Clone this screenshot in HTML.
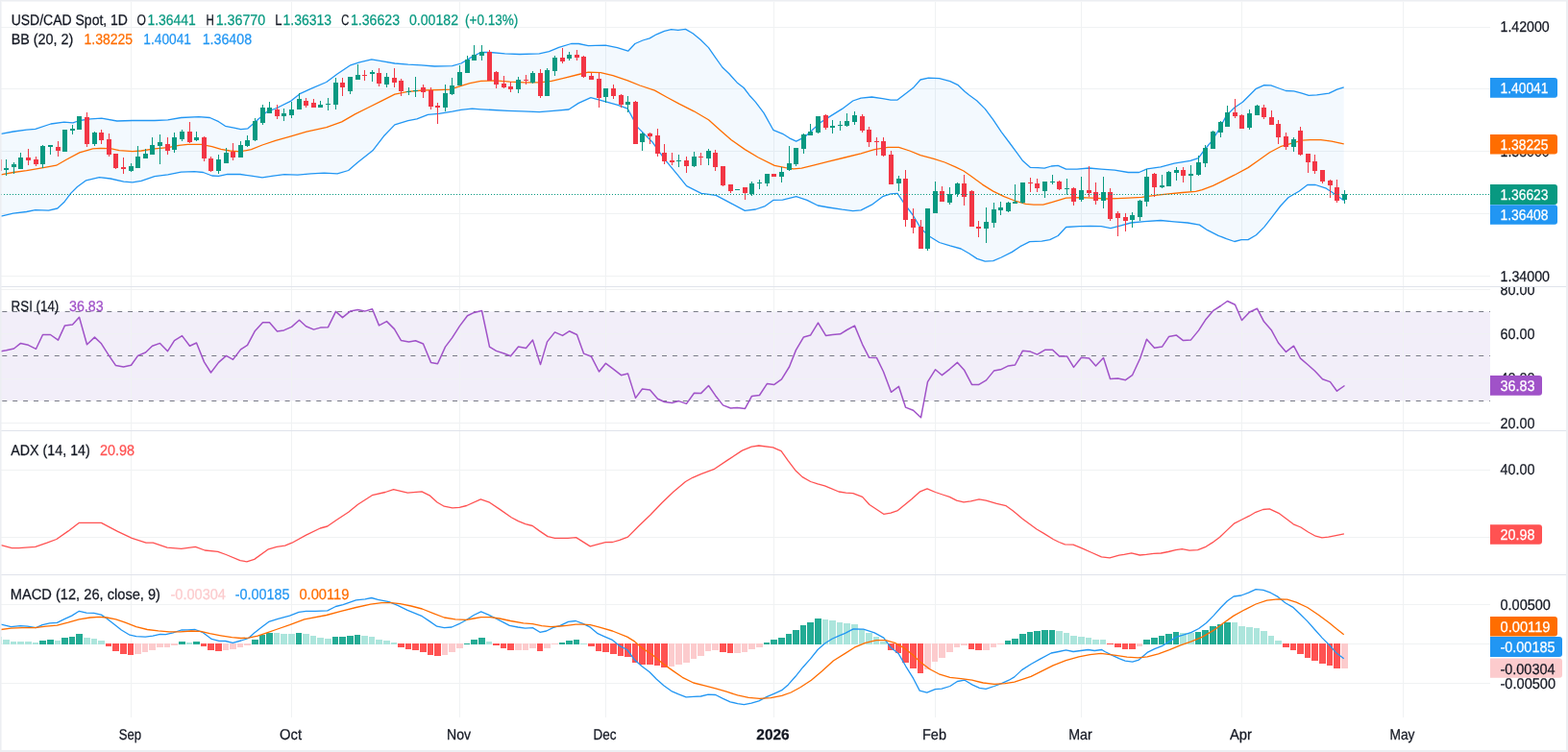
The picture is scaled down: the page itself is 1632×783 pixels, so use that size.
<!DOCTYPE html>
<html><head><meta charset="utf-8"><title>USD/CAD Spot 1D</title><style>
html,body{margin:0;padding:0;background:#ffffff;}
body{width:1632px;height:783px;overflow:hidden;}
svg{display:block;}
text{font-family:"Liberation Sans", Arial, sans-serif;text-rendering:geometricPrecision;}
</style></head><body>
<svg width="1632" height="783" viewBox="0 0 1632 783" shape-rendering="auto">
<defs>
<clipPath id="cm"><rect x="1" y="2" width="1550" height="296"/></clipPath>
<clipPath id="cmx"><rect x="1551" y="2" width="79" height="296"/></clipPath>
<clipPath id="cr"><rect x="1" y="299" width="1550" height="149"/></clipPath>
<clipPath id="crx"><rect x="1551" y="299" width="79" height="149"/></clipPath>
<clipPath id="ca"><rect x="1" y="449" width="1550" height="149"/></clipPath>
<clipPath id="cax"><rect x="1551" y="449" width="79" height="149"/></clipPath>
<clipPath id="cd"><rect x="1" y="599" width="1550" height="148"/></clipPath>
<clipPath id="cdx"><rect x="1551" y="599" width="79" height="148"/></clipPath>
</defs>
<rect x="0" y="0" width="1632" height="783" fill="#ffffff"/>
<g clip-path="url(#cm)">
<rect x="136" y="2" width="1" height="296" fill="#f0f2f3"/>
<rect x="303" y="2" width="1" height="296" fill="#f0f2f3"/>
<rect x="478" y="2" width="1" height="296" fill="#f0f2f3"/>
<rect x="630" y="2" width="1" height="296" fill="#f0f2f3"/>
<rect x="805" y="2" width="1" height="296" fill="#f0f2f3"/>
<rect x="973" y="2" width="1" height="296" fill="#f0f2f3"/>
<rect x="1125" y="2" width="1" height="296" fill="#f0f2f3"/>
<rect x="1292" y="2" width="1" height="296" fill="#f0f2f3"/>
<rect x="1460" y="2" width="1" height="296" fill="#f0f2f3"/>
<rect x="1" y="28" width="1550" height="1" fill="#f0f2f3"/>
<rect x="1" y="92" width="1550" height="1" fill="#f0f2f3"/>
<rect x="1" y="157" width="1550" height="1" fill="#f0f2f3"/>
<rect x="1" y="222" width="1550" height="1" fill="#f0f2f3"/>
<rect x="1" y="287" width="1550" height="1" fill="#f0f2f3"/>
<polygon points="1.1,139.3 13.8,137 27.6,135.2 36.8,134.3 52.9,129 66.7,127.1 75.9,127.8 82.8,125.5 94.3,123.9 105.7,123.2 121.8,126 137.9,125.5 160.9,125.5 174.7,124.8 188.5,122.5 206.9,121.6 218.4,122.5 227.6,126.7 234.5,131.3 243.7,133.1 250.6,134.7 258,133.8 268.4,124.6 277.6,116.6 289.1,112 302.9,105.1 312.1,97.7 323.6,92.4 339.7,85.5 351.1,77 364.9,67.8 374.1,64.8 386.8,61.8 397.1,63.7 410.9,66 424.7,67.1 438.5,67.8 452.3,69 470.7,68.7 479.9,66 491.4,59.1 500.6,54.5 510.2,54.5 525.5,55.8 540.9,56.5 561.3,55.8 571.5,53.7 581.7,49.4 594.5,45.5 602.2,45.5 612.4,47.6 620,47.4 630.2,47.1 642.5,49.6 653.7,53.2 660.9,45.5 669,42 676.2,39.9 683.3,35.8 691.5,32.3 698.7,30.7 705.8,31.4 713.5,30.4 721.1,34.8 729.3,41.5 737.5,49.6 744.6,59.8 751.8,70 758.9,76.7 767.1,85.9 774.2,91.5 780,99.2 786.5,106.4 795,117.6 804.8,135.3 814.6,139.3 821.7,143.8 828.7,147.1 837.1,142.9 845.6,135.3 854,127.5 865.2,120.4 876.5,113.4 887.7,105 896.1,102.2 907.4,101 918.6,102.7 927.1,104.1 934.1,104.1 943.9,96.5 951,90.9 958,83 966.4,81.1 977.7,81.6 988.9,84.7 997.3,88.7 1004.4,95.5 1008.4,98.8 1016.9,105 1025.3,113.4 1033.7,124.6 1042.2,137.3 1050.6,148.5 1059,159.8 1064.6,167.6 1072.5,174.4 1080.1,174.7 1087.1,175.2 1094.2,173 1101.2,172.4 1109.6,176.1 1120.9,176.1 1133.5,175 1146.1,176.1 1160.2,177.2 1174.3,179.5 1185.5,179.5 1193.9,175.8 1208,173.8 1222,170.2 1238.9,167.4 1247.3,164.6 1254,155.5 1261.1,147.1 1268.1,135.8 1276.5,120.4 1284.9,112 1293.4,106.3 1300.4,99.3 1307.4,92.3 1315.8,88.6 1322.8,88.9 1329.9,91.5 1338.3,94.5 1346.7,94.8 1355.1,97.1 1362.2,99.3 1370.6,98.8 1383.2,97.1 1391.6,93.1 1398.7,90.9 1398.7,208.8 1388.8,201.8 1380.4,196.2 1369.2,192.5 1360.8,192.5 1352.3,199 1341.1,205.5 1332.7,214.5 1324.2,225.7 1315.8,236.4 1307.4,244.8 1299,249.6 1292,249.6 1284.9,251.5 1276.5,248.7 1268.1,245.3 1256.8,239.7 1248.4,234.1 1236.1,232 1222,230.9 1208,229.5 1191.1,230.6 1177.1,232 1165.8,235.1 1156,237.6 1146.1,235.7 1134.9,235.4 1123.7,235.7 1109.6,236.5 1101.2,245.5 1092.7,249.7 1084.3,251.1 1071.7,251.7 1061.8,256.7 1053.4,262.4 1042.2,268 1033.7,271.6 1025.3,272.2 1016.9,269.4 1008.4,263.8 1000.1,259 988.9,255.9 977.7,252.5 966.4,245.5 958,237.1 949.5,223 941.1,211.8 934.1,201.4 927.1,201.9 918.6,204.7 907.4,213.2 896.1,218.8 887.7,219.6 876.5,218.2 862.4,216 851.2,214 839.9,208.4 828.7,204.7 814.6,208.1 804.8,208.4 796.4,214.6 786.5,218 775.3,219.4 761.2,211.8 745.2,203.4 729.9,201.4 714.6,193.7 704.3,180.9 691.6,165.6 678.8,147.7 663.5,132.4 653.3,113.2 643,109.4 627.7,105.1 614.9,101.7 602.2,107.4 592,114 576.6,115.3 561.3,116.6 543.4,115.8 528.1,115.3 512.8,114.5 500.6,113.8 491.4,113.1 479.9,114.3 470.7,116.1 456.9,118.4 445.4,119.3 433.9,123.9 424.7,125.7 410.9,129.9 399.4,141.8 387.9,156.8 371.8,169.4 362.6,177.5 351.1,180.9 337.4,180.2 323.6,180.9 309.8,182.1 296,181.6 284.5,183.2 273,184.8 261.5,183.2 250,181.5 236.8,181.4 227.6,183.4 220.7,183 211.5,179.5 202.3,178.6 188.5,179.1 174.7,181.8 160.9,183.7 147.1,188.3 137.9,189.9 128.7,189.2 114.9,186 103.4,184.6 89.7,187.8 80.5,194.5 73.6,201.4 66.7,210.6 59.8,217 50.6,219.1 36.8,218.6 27.6,220.5 13.8,222.1 1.1,225.1" fill="#2196f3" fill-opacity="0.055"/>
<polyline points="1.1,139.3 13.8,137 27.6,135.2 36.8,134.3 52.9,129 66.7,127.1 75.9,127.8 82.8,125.5 94.3,123.9 105.7,123.2 121.8,126 137.9,125.5 160.9,125.5 174.7,124.8 188.5,122.5 206.9,121.6 218.4,122.5 227.6,126.7 234.5,131.3 243.7,133.1 250.6,134.7 258,133.8 268.4,124.6 277.6,116.6 289.1,112 302.9,105.1 312.1,97.7 323.6,92.4 339.7,85.5 351.1,77 364.9,67.8 374.1,64.8 386.8,61.8 397.1,63.7 410.9,66 424.7,67.1 438.5,67.8 452.3,69 470.7,68.7 479.9,66 491.4,59.1 500.6,54.5 510.2,54.5 525.5,55.8 540.9,56.5 561.3,55.8 571.5,53.7 581.7,49.4 594.5,45.5 602.2,45.5 612.4,47.6 620,47.4 630.2,47.1 642.5,49.6 653.7,53.2 660.9,45.5 669,42 676.2,39.9 683.3,35.8 691.5,32.3 698.7,30.7 705.8,31.4 713.5,30.4 721.1,34.8 729.3,41.5 737.5,49.6 744.6,59.8 751.8,70 758.9,76.7 767.1,85.9 774.2,91.5 780,99.2 786.5,106.4 795,117.6 804.8,135.3 814.6,139.3 821.7,143.8 828.7,147.1 837.1,142.9 845.6,135.3 854,127.5 865.2,120.4 876.5,113.4 887.7,105 896.1,102.2 907.4,101 918.6,102.7 927.1,104.1 934.1,104.1 943.9,96.5 951,90.9 958,83 966.4,81.1 977.7,81.6 988.9,84.7 997.3,88.7 1004.4,95.5 1008.4,98.8 1016.9,105 1025.3,113.4 1033.7,124.6 1042.2,137.3 1050.6,148.5 1059,159.8 1064.6,167.6 1072.5,174.4 1080.1,174.7 1087.1,175.2 1094.2,173 1101.2,172.4 1109.6,176.1 1120.9,176.1 1133.5,175 1146.1,176.1 1160.2,177.2 1174.3,179.5 1185.5,179.5 1193.9,175.8 1208,173.8 1222,170.2 1238.9,167.4 1247.3,164.6 1254,155.5 1261.1,147.1 1268.1,135.8 1276.5,120.4 1284.9,112 1293.4,106.3 1300.4,99.3 1307.4,92.3 1315.8,88.6 1322.8,88.9 1329.9,91.5 1338.3,94.5 1346.7,94.8 1355.1,97.1 1362.2,99.3 1370.6,98.8 1383.2,97.1 1391.6,93.1 1398.7,90.9" fill="none" stroke="#2196f3" stroke-width="1.3" stroke-linejoin="round"/>
<polyline points="1.1,225.1 13.8,222.1 27.6,220.5 36.8,218.6 50.6,219.1 59.8,217 66.7,210.6 73.6,201.4 80.5,194.5 89.7,187.8 103.4,184.6 114.9,186 128.7,189.2 137.9,189.9 147.1,188.3 160.9,183.7 174.7,181.8 188.5,179.1 202.3,178.6 211.5,179.5 220.7,183 227.6,183.4 236.8,181.4 250,181.5 261.5,183.2 273,184.8 284.5,183.2 296,181.6 309.8,182.1 323.6,180.9 337.4,180.2 351.1,180.9 362.6,177.5 371.8,169.4 387.9,156.8 399.4,141.8 410.9,129.9 424.7,125.7 433.9,123.9 445.4,119.3 456.9,118.4 470.7,116.1 479.9,114.3 491.4,113.1 500.6,113.8 512.8,114.5 528.1,115.3 543.4,115.8 561.3,116.6 576.6,115.3 592,114 602.2,107.4 614.9,101.7 627.7,105.1 643,109.4 653.3,113.2 663.5,132.4 678.8,147.7 691.6,165.6 704.3,180.9 714.6,193.7 729.9,201.4 745.2,203.4 761.2,211.8 775.3,219.4 786.5,218 796.4,214.6 804.8,208.4 814.6,208.1 828.7,204.7 839.9,208.4 851.2,214 862.4,216 876.5,218.2 887.7,219.6 896.1,218.8 907.4,213.2 918.6,204.7 927.1,201.9 934.1,201.4 941.1,211.8 949.5,223 958,237.1 966.4,245.5 977.7,252.5 988.9,255.9 1000.1,259 1008.4,263.8 1016.9,269.4 1025.3,272.2 1033.7,271.6 1042.2,268 1053.4,262.4 1061.8,256.7 1071.7,251.7 1084.3,251.1 1092.7,249.7 1101.2,245.5 1109.6,236.5 1123.7,235.7 1134.9,235.4 1146.1,235.7 1156,237.6 1165.8,235.1 1177.1,232 1191.1,230.6 1208,229.5 1222,230.9 1236.1,232 1248.4,234.1 1256.8,239.7 1268.1,245.3 1276.5,248.7 1284.9,251.5 1292,249.6 1299,249.6 1307.4,244.8 1315.8,236.4 1324.2,225.7 1332.7,214.5 1341.1,205.5 1352.3,199 1360.8,192.5 1369.2,192.5 1380.4,196.2 1388.8,201.8 1398.7,208.8" fill="none" stroke="#2196f3" stroke-width="1.3" stroke-linejoin="round"/>
<polyline points="1.1,181.8 13.8,179.5 27.6,177.7 43.7,174.9 58.6,172.2 69,166.2 82.8,158.9 96.6,154.9 104.6,154.3 114.9,154.7 124.1,156.6 137.9,157.7 147.1,157 160.9,154.9 174.7,153.6 186.2,151.3 195.4,150.3 209.2,150.3 220.7,152.6 229.9,155.4 239.1,157 250,157.9 261.5,155.6 273,151 286.8,146.4 302.9,141.8 319,137.2 339.7,132.6 355.7,126.9 369.5,118.9 383.3,112 397.1,105.1 410.9,98.2 424.7,95.4 440.8,94 456.9,93.6 468.4,93.1 477.6,90.1 489.1,86.7 500.6,84.4 515.3,83.9 530.7,85.1 546,85.9 561.3,85.9 574.1,84.4 586.8,81.3 602.2,77.5 612.4,75.2 625.2,75.7 637.9,78.7 653.3,83.9 666,89 681.4,94.1 694.1,101.2 706.9,108.1 722.2,115.8 737.5,124.7 750.3,136.2 761.2,145.7 775.3,155.6 789.3,164 806.2,172.4 817.5,174.7 825.9,175.8 834.3,175.2 845.6,172.4 862.4,168.2 879.3,164 896.1,159.8 910.2,155.6 924.3,153.3 935.5,153.3 946.7,157 958,161.7 972,165.4 983.3,169 994.5,173.8 1003,178 1011.2,183.7 1022.5,192.1 1033.7,199.1 1045,204.7 1056.2,209 1067.5,212.3 1075.9,213.2 1085.7,213.2 1095.6,210.4 1109.6,206.2 1123.7,205.6 1137.7,206.2 1151.8,207 1163,206.7 1174.3,206.2 1188.3,205.3 1202.4,203.3 1216.4,201.9 1230.5,200.5 1244.5,199.4 1251.2,197.6 1262.5,193.4 1273.7,187.8 1284.9,182.2 1299,174.6 1310.2,166.7 1321.4,158.8 1332.7,152.7 1343.9,149.3 1355.1,146.2 1363.6,145.6 1374.8,145.6 1386,147.1 1398.7,149.9" fill="none" stroke="#ff6d00" stroke-width="1.3" stroke-linejoin="round"/>
<rect x="-1" y="166" width="1" height="12" fill="#f23645"/>
<rect x="-3" y="166" width="5" height="12" fill="#f23645"/>
<rect x="6" y="166" width="1" height="17" fill="#089981"/>
<rect x="4" y="175" width="5" height="2" fill="#089981"/>
<rect x="14" y="169" width="1" height="12" fill="#089981"/>
<rect x="12" y="171" width="5" height="3" fill="#089981"/>
<rect x="21" y="159" width="1" height="17" fill="#089981"/>
<rect x="19" y="164" width="5" height="12" fill="#089981"/>
<rect x="29" y="155" width="1" height="17" fill="#f23645"/>
<rect x="27" y="164" width="5" height="3" fill="#f23645"/>
<rect x="37" y="163" width="1" height="10" fill="#f23645"/>
<rect x="35" y="166" width="5" height="5" fill="#f23645"/>
<rect x="44" y="151" width="1" height="24" fill="#089981"/>
<rect x="42" y="152" width="5" height="19" fill="#089981"/>
<rect x="52" y="151" width="1" height="10" fill="#089981"/>
<rect x="50" y="151" width="5" height="2" fill="#089981"/>
<rect x="60" y="147" width="1" height="16" fill="#f23645"/>
<rect x="58" y="153" width="5" height="4" fill="#f23645"/>
<rect x="67" y="135" width="1" height="23" fill="#089981"/>
<rect x="65" y="135" width="5" height="23" fill="#089981"/>
<rect x="75" y="130" width="1" height="10" fill="#089981"/>
<rect x="73" y="134" width="5" height="2" fill="#089981"/>
<rect x="82" y="121" width="1" height="14" fill="#089981"/>
<rect x="80" y="121" width="5" height="14" fill="#089981"/>
<rect x="90" y="117" width="1" height="36" fill="#f23645"/>
<rect x="88" y="122" width="5" height="28" fill="#f23645"/>
<rect x="98" y="137" width="1" height="15" fill="#089981"/>
<rect x="96" y="138" width="5" height="12" fill="#089981"/>
<rect x="105" y="135" width="1" height="15" fill="#f23645"/>
<rect x="103" y="138" width="5" height="8" fill="#f23645"/>
<rect x="113" y="139" width="1" height="24" fill="#f23645"/>
<rect x="111" y="145" width="5" height="16" fill="#f23645"/>
<rect x="120" y="160" width="1" height="16" fill="#f23645"/>
<rect x="118" y="160" width="5" height="15" fill="#f23645"/>
<rect x="128" y="164" width="1" height="17" fill="#f23645"/>
<rect x="126" y="174" width="5" height="2" fill="#f23645"/>
<rect x="136" y="170" width="1" height="9" fill="#089981"/>
<rect x="134" y="173" width="5" height="5" fill="#089981"/>
<rect x="143" y="152" width="1" height="23" fill="#089981"/>
<rect x="141" y="163" width="5" height="12" fill="#089981"/>
<rect x="151" y="155" width="1" height="10" fill="#089981"/>
<rect x="149" y="160" width="5" height="5" fill="#089981"/>
<rect x="158" y="143" width="1" height="18" fill="#089981"/>
<rect x="156" y="151" width="5" height="10" fill="#089981"/>
<rect x="166" y="140" width="1" height="31" fill="#089981"/>
<rect x="164" y="148" width="5" height="4" fill="#089981"/>
<rect x="174" y="143" width="1" height="18" fill="#f23645"/>
<rect x="172" y="150" width="5" height="7" fill="#f23645"/>
<rect x="181" y="138" width="1" height="21" fill="#089981"/>
<rect x="179" y="143" width="5" height="13" fill="#089981"/>
<rect x="189" y="135" width="1" height="12" fill="#089981"/>
<rect x="187" y="137" width="5" height="8" fill="#089981"/>
<rect x="197" y="127" width="1" height="22" fill="#f23645"/>
<rect x="195" y="137" width="5" height="11" fill="#f23645"/>
<rect x="204" y="137" width="1" height="10" fill="#089981"/>
<rect x="202" y="143" width="5" height="3" fill="#089981"/>
<rect x="212" y="142" width="1" height="26" fill="#f23645"/>
<rect x="210" y="143" width="5" height="22" fill="#f23645"/>
<rect x="219" y="163" width="1" height="16" fill="#f23645"/>
<rect x="217" y="165" width="5" height="13" fill="#f23645"/>
<rect x="227" y="161" width="1" height="20" fill="#089981"/>
<rect x="225" y="166" width="5" height="12" fill="#089981"/>
<rect x="235" y="154" width="1" height="16" fill="#089981"/>
<rect x="233" y="159" width="5" height="11" fill="#089981"/>
<rect x="242" y="149" width="1" height="18" fill="#f23645"/>
<rect x="240" y="158" width="5" height="6" fill="#f23645"/>
<rect x="250" y="147" width="1" height="17" fill="#089981"/>
<rect x="248" y="151" width="5" height="13" fill="#089981"/>
<rect x="257" y="141" width="1" height="12" fill="#089981"/>
<rect x="255" y="146" width="5" height="6" fill="#089981"/>
<rect x="265" y="123" width="1" height="24" fill="#089981"/>
<rect x="263" y="126" width="5" height="20" fill="#089981"/>
<rect x="273" y="109" width="1" height="21" fill="#089981"/>
<rect x="271" y="112" width="5" height="16" fill="#089981"/>
<rect x="280" y="106" width="1" height="12" fill="#089981"/>
<rect x="278" y="112" width="5" height="6" fill="#089981"/>
<rect x="288" y="109" width="1" height="15" fill="#f23645"/>
<rect x="286" y="114" width="5" height="7" fill="#f23645"/>
<rect x="295" y="113" width="1" height="13" fill="#089981"/>
<rect x="293" y="118" width="5" height="3" fill="#089981"/>
<rect x="303" y="106" width="1" height="17" fill="#089981"/>
<rect x="301" y="114" width="5" height="6" fill="#089981"/>
<rect x="311" y="97" width="1" height="17" fill="#089981"/>
<rect x="309" y="103" width="5" height="11" fill="#089981"/>
<rect x="318" y="102" width="1" height="10" fill="#f23645"/>
<rect x="316" y="105" width="5" height="5" fill="#f23645"/>
<rect x="326" y="103" width="1" height="9" fill="#f23645"/>
<rect x="324" y="107" width="5" height="5" fill="#f23645"/>
<rect x="333" y="105" width="1" height="7" fill="#089981"/>
<rect x="331" y="109" width="5" height="3" fill="#089981"/>
<rect x="341" y="102" width="1" height="13" fill="#089981"/>
<rect x="339" y="108" width="5" height="1" fill="#089981"/>
<rect x="349" y="81" width="1" height="33" fill="#089981"/>
<rect x="347" y="86" width="5" height="23" fill="#089981"/>
<rect x="356" y="81" width="1" height="19" fill="#f23645"/>
<rect x="354" y="86" width="5" height="5" fill="#f23645"/>
<rect x="364" y="80" width="1" height="18" fill="#089981"/>
<rect x="362" y="80" width="5" height="15" fill="#089981"/>
<rect x="372" y="67" width="1" height="16" fill="#089981"/>
<rect x="370" y="78" width="5" height="5" fill="#089981"/>
<rect x="379" y="73" width="1" height="11" fill="#f23645"/>
<rect x="377" y="78" width="5" height="1" fill="#f23645"/>
<rect x="387" y="73" width="1" height="12" fill="#089981"/>
<rect x="385" y="75" width="5" height="2" fill="#089981"/>
<rect x="394" y="71" width="1" height="19" fill="#f23645"/>
<rect x="392" y="76" width="5" height="11" fill="#f23645"/>
<rect x="402" y="76" width="1" height="15" fill="#089981"/>
<rect x="400" y="80" width="5" height="8" fill="#089981"/>
<rect x="410" y="71" width="1" height="20" fill="#f23645"/>
<rect x="408" y="81" width="5" height="5" fill="#f23645"/>
<rect x="417" y="82" width="1" height="18" fill="#f23645"/>
<rect x="415" y="84" width="5" height="11" fill="#f23645"/>
<rect x="425" y="91" width="1" height="8" fill="#089981"/>
<rect x="423" y="95" width="5" height="1" fill="#089981"/>
<rect x="432" y="80" width="1" height="21" fill="#089981"/>
<rect x="430" y="94" width="5" height="1" fill="#089981"/>
<rect x="440" y="88" width="1" height="14" fill="#f23645"/>
<rect x="438" y="91" width="5" height="5" fill="#f23645"/>
<rect x="448" y="91" width="1" height="23" fill="#f23645"/>
<rect x="446" y="94" width="5" height="17" fill="#f23645"/>
<rect x="455" y="107" width="1" height="22" fill="#f23645"/>
<rect x="453" y="110" width="5" height="2" fill="#f23645"/>
<rect x="463" y="88" width="1" height="28" fill="#089981"/>
<rect x="461" y="97" width="5" height="15" fill="#089981"/>
<rect x="470" y="81" width="1" height="18" fill="#089981"/>
<rect x="468" y="89" width="5" height="9" fill="#089981"/>
<rect x="478" y="68" width="1" height="21" fill="#089981"/>
<rect x="476" y="75" width="5" height="14" fill="#089981"/>
<rect x="486" y="58" width="1" height="18" fill="#089981"/>
<rect x="484" y="62" width="5" height="14" fill="#089981"/>
<rect x="493" y="47" width="1" height="16" fill="#089981"/>
<rect x="491" y="57" width="5" height="6" fill="#089981"/>
<rect x="501" y="47" width="1" height="16" fill="#089981"/>
<rect x="499" y="54" width="5" height="4" fill="#089981"/>
<rect x="509" y="52" width="1" height="32" fill="#f23645"/>
<rect x="507" y="54" width="5" height="30" fill="#f23645"/>
<rect x="516" y="74" width="1" height="18" fill="#f23645"/>
<rect x="514" y="75" width="5" height="13" fill="#f23645"/>
<rect x="524" y="79" width="1" height="13" fill="#f23645"/>
<rect x="522" y="87" width="5" height="4" fill="#f23645"/>
<rect x="531" y="85" width="1" height="11" fill="#f23645"/>
<rect x="529" y="90" width="5" height="3" fill="#f23645"/>
<rect x="539" y="80" width="1" height="17" fill="#089981"/>
<rect x="537" y="83" width="5" height="10" fill="#089981"/>
<rect x="547" y="78" width="1" height="10" fill="#f23645"/>
<rect x="545" y="83" width="5" height="1" fill="#f23645"/>
<rect x="554" y="74" width="1" height="13" fill="#089981"/>
<rect x="552" y="76" width="5" height="10" fill="#089981"/>
<rect x="562" y="72" width="1" height="30" fill="#f23645"/>
<rect x="560" y="76" width="5" height="24" fill="#f23645"/>
<rect x="569" y="71" width="1" height="29" fill="#089981"/>
<rect x="567" y="73" width="5" height="27" fill="#089981"/>
<rect x="577" y="58" width="1" height="21" fill="#089981"/>
<rect x="575" y="60" width="5" height="14" fill="#089981"/>
<rect x="585" y="50" width="1" height="16" fill="#f23645"/>
<rect x="583" y="60" width="5" height="4" fill="#f23645"/>
<rect x="592" y="54" width="1" height="9" fill="#089981"/>
<rect x="590" y="57" width="5" height="4" fill="#089981"/>
<rect x="600" y="52" width="1" height="11" fill="#f23645"/>
<rect x="598" y="57" width="5" height="3" fill="#f23645"/>
<rect x="607" y="58" width="1" height="23" fill="#f23645"/>
<rect x="605" y="59" width="5" height="21" fill="#f23645"/>
<rect x="615" y="76" width="1" height="7" fill="#f23645"/>
<rect x="613" y="79" width="5" height="4" fill="#f23645"/>
<rect x="623" y="76" width="1" height="36" fill="#f23645"/>
<rect x="621" y="82" width="5" height="20" fill="#f23645"/>
<rect x="630" y="92" width="1" height="15" fill="#089981"/>
<rect x="628" y="92" width="5" height="9" fill="#089981"/>
<rect x="638" y="88" width="1" height="15" fill="#f23645"/>
<rect x="636" y="92" width="5" height="8" fill="#f23645"/>
<rect x="646" y="98" width="1" height="14" fill="#f23645"/>
<rect x="644" y="99" width="5" height="10" fill="#f23645"/>
<rect x="653" y="100" width="1" height="17" fill="#089981"/>
<rect x="651" y="106" width="5" height="3" fill="#089981"/>
<rect x="661" y="105" width="1" height="45" fill="#f23645"/>
<rect x="659" y="106" width="5" height="44" fill="#f23645"/>
<rect x="668" y="138" width="1" height="19" fill="#089981"/>
<rect x="666" y="139" width="5" height="9" fill="#089981"/>
<rect x="676" y="138" width="1" height="12" fill="#f23645"/>
<rect x="674" y="139" width="5" height="3" fill="#f23645"/>
<rect x="684" y="134" width="1" height="29" fill="#f23645"/>
<rect x="682" y="141" width="5" height="19" fill="#f23645"/>
<rect x="691" y="150" width="1" height="21" fill="#f23645"/>
<rect x="689" y="159" width="5" height="9" fill="#f23645"/>
<rect x="699" y="159" width="1" height="13" fill="#f23645"/>
<rect x="697" y="167" width="5" height="2" fill="#f23645"/>
<rect x="706" y="161" width="1" height="13" fill="#089981"/>
<rect x="704" y="167" width="5" height="1" fill="#089981"/>
<rect x="714" y="163" width="1" height="17" fill="#f23645"/>
<rect x="712" y="167" width="5" height="6" fill="#f23645"/>
<rect x="722" y="158" width="1" height="16" fill="#089981"/>
<rect x="720" y="163" width="5" height="10" fill="#089981"/>
<rect x="729" y="159" width="1" height="13" fill="#f23645"/>
<rect x="727" y="163" width="5" height="1" fill="#f23645"/>
<rect x="737" y="155" width="1" height="17" fill="#089981"/>
<rect x="735" y="157" width="5" height="8" fill="#089981"/>
<rect x="744" y="156" width="1" height="22" fill="#f23645"/>
<rect x="742" y="159" width="5" height="15" fill="#f23645"/>
<rect x="752" y="173" width="1" height="21" fill="#f23645"/>
<rect x="750" y="173" width="5" height="20" fill="#f23645"/>
<rect x="760" y="192" width="1" height="9" fill="#f23645"/>
<rect x="758" y="192" width="5" height="7" fill="#f23645"/>
<rect x="767" y="197" width="1" height="1" fill="#089981"/>
<rect x="765" y="197" width="5" height="1" fill="#089981"/>
<rect x="775" y="195" width="1" height="13" fill="#f23645"/>
<rect x="773" y="195" width="5" height="6" fill="#f23645"/>
<rect x="782" y="189" width="1" height="15" fill="#089981"/>
<rect x="780" y="191" width="5" height="11" fill="#089981"/>
<rect x="790" y="187" width="1" height="10" fill="#089981"/>
<rect x="788" y="190" width="5" height="1" fill="#089981"/>
<rect x="798" y="181" width="1" height="13" fill="#089981"/>
<rect x="796" y="181" width="5" height="10" fill="#089981"/>
<rect x="805" y="181" width="1" height="3" fill="#f23645"/>
<rect x="803" y="181" width="5" height="3" fill="#f23645"/>
<rect x="813" y="174" width="1" height="16" fill="#089981"/>
<rect x="811" y="179" width="5" height="5" fill="#089981"/>
<rect x="821" y="152" width="1" height="26" fill="#089981"/>
<rect x="819" y="170" width="5" height="7" fill="#089981"/>
<rect x="828" y="154" width="1" height="19" fill="#089981"/>
<rect x="826" y="154" width="5" height="17" fill="#089981"/>
<rect x="836" y="139" width="1" height="21" fill="#089981"/>
<rect x="834" y="140" width="5" height="15" fill="#089981"/>
<rect x="843" y="129" width="1" height="12" fill="#089981"/>
<rect x="841" y="137" width="5" height="4" fill="#089981"/>
<rect x="851" y="121" width="1" height="18" fill="#089981"/>
<rect x="849" y="121" width="5" height="17" fill="#089981"/>
<rect x="859" y="119" width="1" height="16" fill="#f23645"/>
<rect x="857" y="120" width="5" height="13" fill="#f23645"/>
<rect x="866" y="125" width="1" height="14" fill="#089981"/>
<rect x="864" y="131" width="5" height="2" fill="#089981"/>
<rect x="874" y="126" width="1" height="10" fill="#089981"/>
<rect x="872" y="130" width="5" height="1" fill="#089981"/>
<rect x="881" y="118" width="1" height="14" fill="#089981"/>
<rect x="879" y="126" width="5" height="5" fill="#089981"/>
<rect x="889" y="116" width="1" height="14" fill="#089981"/>
<rect x="887" y="120" width="5" height="7" fill="#089981"/>
<rect x="897" y="119" width="1" height="19" fill="#f23645"/>
<rect x="895" y="121" width="5" height="15" fill="#f23645"/>
<rect x="904" y="132" width="1" height="21" fill="#f23645"/>
<rect x="902" y="135" width="5" height="13" fill="#f23645"/>
<rect x="912" y="143" width="1" height="19" fill="#f23645"/>
<rect x="910" y="147" width="5" height="1" fill="#f23645"/>
<rect x="919" y="143" width="1" height="20" fill="#f23645"/>
<rect x="917" y="147" width="5" height="15" fill="#f23645"/>
<rect x="927" y="157" width="1" height="35" fill="#f23645"/>
<rect x="925" y="161" width="5" height="31" fill="#f23645"/>
<rect x="935" y="183" width="1" height="16" fill="#089981"/>
<rect x="933" y="186" width="5" height="5" fill="#089981"/>
<rect x="942" y="177" width="1" height="59" fill="#f23645"/>
<rect x="940" y="186" width="5" height="43" fill="#f23645"/>
<rect x="950" y="217" width="1" height="26" fill="#f23645"/>
<rect x="948" y="228" width="5" height="9" fill="#f23645"/>
<rect x="958" y="229" width="1" height="30" fill="#f23645"/>
<rect x="956" y="236" width="5" height="23" fill="#f23645"/>
<rect x="965" y="217" width="1" height="44" fill="#089981"/>
<rect x="963" y="217" width="5" height="42" fill="#089981"/>
<rect x="973" y="189" width="1" height="33" fill="#089981"/>
<rect x="971" y="199" width="5" height="23" fill="#089981"/>
<rect x="980" y="194" width="1" height="16" fill="#f23645"/>
<rect x="978" y="199" width="5" height="11" fill="#f23645"/>
<rect x="988" y="195" width="1" height="18" fill="#089981"/>
<rect x="986" y="202" width="5" height="9" fill="#089981"/>
<rect x="996" y="190" width="1" height="15" fill="#089981"/>
<rect x="994" y="191" width="5" height="11" fill="#089981"/>
<rect x="1003" y="182" width="1" height="32" fill="#f23645"/>
<rect x="1001" y="191" width="5" height="14" fill="#f23645"/>
<rect x="1011" y="198" width="1" height="38" fill="#f23645"/>
<rect x="1009" y="199" width="5" height="37" fill="#f23645"/>
<rect x="1018" y="230" width="1" height="17" fill="#f23645"/>
<rect x="1016" y="236" width="5" height="2" fill="#f23645"/>
<rect x="1026" y="216" width="1" height="37" fill="#089981"/>
<rect x="1024" y="231" width="5" height="7" fill="#089981"/>
<rect x="1034" y="211" width="1" height="26" fill="#089981"/>
<rect x="1032" y="218" width="5" height="14" fill="#089981"/>
<rect x="1041" y="210" width="1" height="14" fill="#089981"/>
<rect x="1039" y="216" width="5" height="3" fill="#089981"/>
<rect x="1049" y="210" width="1" height="11" fill="#089981"/>
<rect x="1047" y="211" width="5" height="9" fill="#089981"/>
<rect x="1056" y="192" width="1" height="20" fill="#089981"/>
<rect x="1054" y="210" width="5" height="2" fill="#089981"/>
<rect x="1064" y="190" width="1" height="22" fill="#089981"/>
<rect x="1062" y="190" width="5" height="21" fill="#089981"/>
<rect x="1072" y="185" width="1" height="15" fill="#f23645"/>
<rect x="1070" y="190" width="5" height="1" fill="#f23645"/>
<rect x="1079" y="186" width="1" height="14" fill="#f23645"/>
<rect x="1077" y="191" width="5" height="5" fill="#f23645"/>
<rect x="1087" y="189" width="1" height="17" fill="#089981"/>
<rect x="1085" y="189" width="5" height="10" fill="#089981"/>
<rect x="1095" y="182" width="1" height="10" fill="#089981"/>
<rect x="1093" y="189" width="5" height="1" fill="#089981"/>
<rect x="1102" y="188" width="1" height="10" fill="#f23645"/>
<rect x="1100" y="189" width="5" height="8" fill="#f23645"/>
<rect x="1110" y="186" width="1" height="17" fill="#089981"/>
<rect x="1108" y="196" width="5" height="1" fill="#089981"/>
<rect x="1117" y="195" width="1" height="19" fill="#f23645"/>
<rect x="1115" y="196" width="5" height="14" fill="#f23645"/>
<rect x="1125" y="184" width="1" height="26" fill="#089981"/>
<rect x="1123" y="198" width="5" height="10" fill="#089981"/>
<rect x="1133" y="173" width="1" height="32" fill="#f23645"/>
<rect x="1131" y="198" width="5" height="3" fill="#f23645"/>
<rect x="1140" y="190" width="1" height="23" fill="#f23645"/>
<rect x="1138" y="200" width="5" height="9" fill="#f23645"/>
<rect x="1148" y="184" width="1" height="33" fill="#089981"/>
<rect x="1146" y="200" width="5" height="9" fill="#089981"/>
<rect x="1155" y="196" width="1" height="34" fill="#f23645"/>
<rect x="1153" y="200" width="5" height="28" fill="#f23645"/>
<rect x="1163" y="220" width="1" height="26" fill="#f23645"/>
<rect x="1161" y="222" width="5" height="5" fill="#f23645"/>
<rect x="1171" y="222" width="1" height="19" fill="#f23645"/>
<rect x="1169" y="226" width="5" height="4" fill="#f23645"/>
<rect x="1178" y="221" width="1" height="16" fill="#089981"/>
<rect x="1176" y="224" width="5" height="5" fill="#089981"/>
<rect x="1186" y="208" width="1" height="22" fill="#089981"/>
<rect x="1184" y="209" width="5" height="17" fill="#089981"/>
<rect x="1193" y="176" width="1" height="39" fill="#089981"/>
<rect x="1191" y="184" width="5" height="26" fill="#089981"/>
<rect x="1201" y="180" width="1" height="25" fill="#f23645"/>
<rect x="1199" y="181" width="5" height="14" fill="#f23645"/>
<rect x="1209" y="182" width="1" height="14" fill="#089981"/>
<rect x="1207" y="193" width="5" height="2" fill="#089981"/>
<rect x="1216" y="178" width="1" height="16" fill="#089981"/>
<rect x="1214" y="179" width="5" height="15" fill="#089981"/>
<rect x="1224" y="174" width="1" height="14" fill="#089981"/>
<rect x="1222" y="177" width="5" height="3" fill="#089981"/>
<rect x="1231" y="174" width="1" height="16" fill="#f23645"/>
<rect x="1229" y="177" width="5" height="6" fill="#f23645"/>
<rect x="1239" y="172" width="1" height="27" fill="#089981"/>
<rect x="1237" y="181" width="5" height="2" fill="#089981"/>
<rect x="1247" y="162" width="1" height="21" fill="#089981"/>
<rect x="1245" y="169" width="5" height="13" fill="#089981"/>
<rect x="1254" y="151" width="1" height="23" fill="#089981"/>
<rect x="1252" y="154" width="5" height="16" fill="#089981"/>
<rect x="1262" y="136" width="1" height="19" fill="#089981"/>
<rect x="1260" y="137" width="5" height="18" fill="#089981"/>
<rect x="1270" y="126" width="1" height="17" fill="#089981"/>
<rect x="1268" y="127" width="5" height="11" fill="#089981"/>
<rect x="1277" y="110" width="1" height="22" fill="#089981"/>
<rect x="1275" y="117" width="5" height="15" fill="#089981"/>
<rect x="1285" y="103" width="1" height="20" fill="#f23645"/>
<rect x="1283" y="117" width="5" height="4" fill="#f23645"/>
<rect x="1292" y="119" width="1" height="15" fill="#f23645"/>
<rect x="1290" y="120" width="5" height="14" fill="#f23645"/>
<rect x="1300" y="114" width="1" height="21" fill="#089981"/>
<rect x="1298" y="118" width="5" height="15" fill="#089981"/>
<rect x="1308" y="109" width="1" height="11" fill="#089981"/>
<rect x="1306" y="110" width="5" height="10" fill="#089981"/>
<rect x="1315" y="109" width="1" height="15" fill="#f23645"/>
<rect x="1313" y="112" width="5" height="10" fill="#f23645"/>
<rect x="1323" y="115" width="1" height="15" fill="#f23645"/>
<rect x="1321" y="122" width="5" height="8" fill="#f23645"/>
<rect x="1330" y="125" width="1" height="25" fill="#f23645"/>
<rect x="1328" y="129" width="5" height="14" fill="#f23645"/>
<rect x="1338" y="138" width="1" height="18" fill="#f23645"/>
<rect x="1336" y="142" width="5" height="11" fill="#f23645"/>
<rect x="1346" y="143" width="1" height="15" fill="#089981"/>
<rect x="1344" y="145" width="5" height="8" fill="#089981"/>
<rect x="1353" y="132" width="1" height="30" fill="#f23645"/>
<rect x="1351" y="136" width="5" height="25" fill="#f23645"/>
<rect x="1361" y="160" width="1" height="20" fill="#f23645"/>
<rect x="1359" y="160" width="5" height="9" fill="#f23645"/>
<rect x="1368" y="161" width="1" height="20" fill="#f23645"/>
<rect x="1366" y="168" width="5" height="10" fill="#f23645"/>
<rect x="1376" y="177" width="1" height="14" fill="#f23645"/>
<rect x="1374" y="177" width="5" height="12" fill="#f23645"/>
<rect x="1384" y="187" width="1" height="19" fill="#f23645"/>
<rect x="1382" y="188" width="5" height="5" fill="#f23645"/>
<rect x="1391" y="187" width="1" height="24" fill="#f23645"/>
<rect x="1389" y="195" width="5" height="14" fill="#f23645"/>
<rect x="1399" y="198" width="1" height="14" fill="#089981"/>
<rect x="1397" y="202" width="5" height="6" fill="#089981"/>
<line x1="1" y1="202.5" x2="1551" y2="202.5" stroke="#089981" stroke-width="1" stroke-dasharray="1 2"/>
<text x="11.7" y="25.7" fill="#131722" stroke="#131722" stroke-width="0.25" font-size="15.5" textLength="121.3" lengthAdjust="spacingAndGlyphs">USD/CAD Spot, 1D</text>
<text x="142.4" y="25.7" fill="#131722" stroke="#131722" stroke-width="0.25" font-size="15.5" textLength="9.4" lengthAdjust="spacingAndGlyphs">O</text>
<text x="153.5" y="25.7" fill="#089981" stroke="#089981" stroke-width="0.25" font-size="15.5" textLength="50.3" lengthAdjust="spacingAndGlyphs">1.36441</text>
<text x="214.4" y="25.7" fill="#131722" stroke="#131722" stroke-width="0.25" font-size="15.5" textLength="8.3" lengthAdjust="spacingAndGlyphs">H</text>
<text x="224.7" y="25.7" fill="#089981" stroke="#089981" stroke-width="0.25" font-size="15.5" textLength="51.5" lengthAdjust="spacingAndGlyphs">1.36770</text>
<text x="286.3" y="25.7" fill="#131722" stroke="#131722" stroke-width="0.25" font-size="15.5" textLength="7.2" lengthAdjust="spacingAndGlyphs">L</text>
<text x="294.5" y="25.7" fill="#089981" stroke="#089981" stroke-width="0.25" font-size="15.5" textLength="50.5" lengthAdjust="spacingAndGlyphs">1.36313</text>
<text x="355.3" y="25.7" fill="#131722" stroke="#131722" stroke-width="0.25" font-size="15.5" textLength="8" lengthAdjust="spacingAndGlyphs">C</text>
<text x="365" y="25.7" fill="#089981" stroke="#089981" stroke-width="0.25" font-size="15.5" textLength="51" lengthAdjust="spacingAndGlyphs">1.36623</text>
<text x="426" y="25.7" fill="#089981" stroke="#089981" stroke-width="0.25" font-size="15.5" textLength="51" lengthAdjust="spacingAndGlyphs">0.00182</text>
<text x="484" y="25.7" fill="#089981" stroke="#089981" stroke-width="0.25" font-size="15.5" textLength="55.2" lengthAdjust="spacingAndGlyphs">(+0.13%)</text>
<text x="11.7" y="46.3" fill="#131722" stroke="#131722" stroke-width="0.25" font-size="15.5" textLength="64.6" lengthAdjust="spacingAndGlyphs">BB (20, 2)</text>
<text x="87.5" y="46.3" fill="#ff6d00" stroke="#ff6d00" stroke-width="0.25" font-size="15.5" textLength="50.6" lengthAdjust="spacingAndGlyphs">1.38225</text>
<text x="149.3" y="46.3" fill="#2196f3" stroke="#2196f3" stroke-width="0.25" font-size="15.5" textLength="49.7" lengthAdjust="spacingAndGlyphs">1.40041</text>
<text x="210.7" y="46.3" fill="#2196f3" stroke="#2196f3" stroke-width="0.25" font-size="15.5" textLength="51.4" lengthAdjust="spacingAndGlyphs">1.36408</text>
</g>
<g clip-path="url(#cr)">
<rect x="1" y="324.4" width="1550" height="92.8" fill="#7e57c2" fill-opacity="0.1"/>
<rect x="136" y="299" width="1" height="149" fill="#f0f2f3"/>
<rect x="303" y="299" width="1" height="149" fill="#f0f2f3"/>
<rect x="478" y="299" width="1" height="149" fill="#f0f2f3"/>
<rect x="630" y="299" width="1" height="149" fill="#f0f2f3"/>
<rect x="805" y="299" width="1" height="149" fill="#f0f2f3"/>
<rect x="973" y="299" width="1" height="149" fill="#f0f2f3"/>
<rect x="1125" y="299" width="1" height="149" fill="#f0f2f3"/>
<rect x="1292" y="299" width="1" height="149" fill="#f0f2f3"/>
<rect x="1460" y="299" width="1" height="149" fill="#f0f2f3"/>
<rect x="1" y="301" width="1550" height="1" fill="#f0f2f3"/>
<rect x="1" y="347" width="1550" height="1" fill="#f0f2f3"/>
<rect x="1" y="394" width="1550" height="1" fill="#f0f2f3"/>
<rect x="1" y="440" width="1550" height="1" fill="#f0f2f3"/>
<line x1="1" y1="324.5" x2="1551" y2="324.5" stroke="#787b86" stroke-width="1" stroke-dasharray="5 5.9" stroke-dashoffset="-1.3"/>
<line x1="1" y1="370.5" x2="1551" y2="370.5" stroke="#787b86" stroke-width="1" stroke-dasharray="5 5.9" stroke-dashoffset="-1.3"/>
<line x1="1" y1="417.5" x2="1551" y2="417.5" stroke="#787b86" stroke-width="1" stroke-dasharray="5 5.9" stroke-dashoffset="-1.3"/>
<polyline points="-0.5,366.1 6.5,364.8 14.5,363 21.5,357.4 29.5,359.3 37.5,363.3 44.5,348.5 52.5,348.5 60.5,354.1 67.5,338.9 75.5,338 82.5,330.2 90.5,358.7 98.5,351.1 105.5,357.8 113.5,370.4 120.5,380.6 128.5,381.9 136.5,380.2 143.5,370.4 151.5,367 158.5,360.2 166.5,357.4 174.5,365.7 181.5,354.6 189.5,349.6 197.5,360.2 204.5,357 212.5,376.9 219.5,388 227.5,377.4 235.5,370.4 242.5,374.4 250.5,363.9 257.5,359.3 265.5,344.4 273.5,335.7 280.5,335.7 288.5,345 295.5,343.9 303.5,340.4 311.5,333.3 318.5,339.8 326.5,343.1 333.5,341.1 341.5,340.7 349.5,324.4 356.5,330.6 364.5,324.1 372.5,322.6 379.5,324.1 387.5,321.7 394.5,338.9 402.5,334.6 410.5,342.6 417.5,354.6 425.5,356.1 432.5,354.8 440.5,358 448.5,377.4 455.5,378.7 463.5,361.1 470.5,351.9 478.5,339.4 486.5,328.7 493.5,325.4 501.5,323.5 509.5,361.1 516.5,365.4 524.5,368 531.5,370.7 539.5,361.1 547.5,362.4 554.5,354.1 562.5,379.6 569.5,355.9 577.5,345.9 585.5,349.4 592.5,344.8 600.5,348.5 607.5,368.1 615.5,371.3 623.5,387 630.5,378.3 638.5,384.3 646.5,390.7 653.5,388.9 661.5,414.4 668.5,405 676.5,405.9 684.5,415.2 691.5,418.5 699.5,419.4 706.5,417.6 714.5,420.4 722.5,409.3 729.5,409.6 737.5,401.5 744.5,411.7 752.5,421.9 760.5,425 767.5,424.4 775.5,425.4 782.5,412.4 790.5,411.5 798.5,399.4 805.5,400.6 813.5,394.8 821.5,382 828.5,364.4 836.5,350.9 843.5,349.1 851.5,336.1 859.5,349.4 866.5,348.5 874.5,347.8 881.5,343.5 889.5,339.1 897.5,358.3 904.5,372.2 912.5,372.6 919.5,387 927.5,408.3 935.5,402.4 942.5,424.1 950.5,427.2 958.5,434.8 965.5,397.6 973.5,384.8 980.5,390.7 988.5,384.3 996.5,377.4 1003.5,385.2 1011.5,400.4 1018.5,400.6 1026.5,395.9 1034.5,386.1 1041.5,384.8 1049.5,380.9 1056.5,380 1064.5,365.2 1072.5,366.1 1079.5,369.1 1087.5,364.3 1095.5,364.3 1102.5,370.9 1110.5,370.9 1117.5,382.4 1125.5,372.2 1133.5,373.1 1140.5,380.9 1148.5,372.6 1155.5,394.4 1163.5,393.9 1171.5,395.7 1178.5,390.7 1186.5,373.5 1193.5,353.3 1201.5,362.2 1209.5,361.1 1216.5,350.6 1224.5,349.1 1231.5,354.6 1239.5,353.9 1247.5,344.1 1254.5,333.3 1262.5,323.7 1270.5,318.5 1277.5,313.5 1285.5,317.2 1292.5,333.5 1300.5,325 1308.5,321.3 1315.5,334.8 1323.5,344.1 1330.5,357 1338.5,366.4 1346.5,360.2 1353.5,373.1 1361.5,380 1368.5,386.3 1376.5,394.7 1384.5,397.6 1391.5,407.2 1399.5,401.5" fill="none" stroke="#a052c8" stroke-width="1.5" stroke-linejoin="round"/>
<text x="11.6" y="324.2" fill="#131722" stroke="#131722" stroke-width="0.25" font-size="15.5" textLength="49.7" lengthAdjust="spacingAndGlyphs">RSI (14)</text>
<text x="72" y="324.2" fill="#a052c8" stroke="#a052c8" stroke-width="0.25" font-size="15.5" textLength="35.6" lengthAdjust="spacingAndGlyphs">36.83</text>
</g>
<g clip-path="url(#ca)">
<rect x="136" y="449" width="1" height="149" fill="#f0f2f3"/>
<rect x="303" y="449" width="1" height="149" fill="#f0f2f3"/>
<rect x="478" y="449" width="1" height="149" fill="#f0f2f3"/>
<rect x="630" y="449" width="1" height="149" fill="#f0f2f3"/>
<rect x="805" y="449" width="1" height="149" fill="#f0f2f3"/>
<rect x="973" y="449" width="1" height="149" fill="#f0f2f3"/>
<rect x="1125" y="449" width="1" height="149" fill="#f0f2f3"/>
<rect x="1292" y="449" width="1" height="149" fill="#f0f2f3"/>
<rect x="1460" y="449" width="1" height="149" fill="#f0f2f3"/>
<rect x="1" y="489" width="1550" height="1" fill="#f0f2f3"/>
<rect x="1" y="559" width="1550" height="1" fill="#f0f2f3"/>
<polyline points="1.2,567.6 12.3,570.6 19.6,570.6 36.8,569.4 49,565.2 58.8,561.5 71.1,552.9 82.1,544.4 105.4,544.4 122.5,553.4 137.3,560.3 152,565.2 159.3,565.2 174,570.1 188.7,571.3 203.4,569.4 213.2,573 226.7,574.3 235.3,577.5 250,583.6 256.9,584.8 264.7,582.4 279.4,571.8 288,569.4 296.6,568.1 303.9,565.2 318.6,557.1 333.3,550 340.7,548 350.5,541.2 362.7,533.3 372.5,525.2 387.3,515.7 401,512.5 409.6,509.6 424.3,513.2 439,511.8 447.6,516.2 455,523 462.3,527.2 470.9,528.9 478.2,528.4 485.6,526.5 500.3,519.9 508.9,522.8 519.9,530.1 532.2,538.7 539.5,542.6 546.9,545.6 554.2,547.5 561.6,552.9 570.1,558.6 577.5,560.3 591,560.3 599.6,559.6 614.3,568.9 621.6,566.9 630.2,564.7 637.5,564.5 644.9,562.3 653.5,559.1 664.5,548 676.8,536.3 689,523.5 701.3,511.8 713.5,501.5 720.9,497.3 729.5,493.6 742.9,488.7 757.6,478.9 772.4,469.1 782.2,465.2 789.8,464 804.5,465.9 813.1,469.6 820.4,479.9 827.8,489.7 835.1,496.6 843.7,501.5 851.1,503.9 858.4,505.9 873.1,512 880.5,513.2 887.8,513.7 897.6,517.4 905,525.5 919.7,535.3 927.1,534.1 934.4,531.6 949.1,519.4 957.7,511.8 965,508.8 973.6,512.5 981,515 988.3,517.4 995.7,521.1 1003,522.8 1010.4,521.8 1019,519.9 1026.3,521.1 1037.4,524.3 1047.2,526.7 1054.5,532.1 1064.3,540.2 1079,551 1086.4,555.4 1096.2,561.5 1102.3,564.5 1108.4,566.9 1117,567.2 1125.6,570.6 1135.4,575 1146.4,579.9 1155,580.9 1164.8,578.2 1170,577.4 1177.7,575.9 1186.3,578 1193,577.4 1200.7,576.4 1208.3,576 1216,574.5 1223.6,572.6 1230.3,571.6 1238,573.2 1246.6,572.6 1254.3,569.7 1262,564.9 1269.6,559.2 1277.3,551.9 1284.9,544.8 1292.6,541 1300.3,537.2 1307,533.3 1314.6,530.5 1321.3,529.9 1330.9,534.3 1338.6,540 1346.2,545.8 1353.9,549 1361.6,554 1369.3,558.2 1375.9,559.8 1382.6,559.2 1390.3,557.7 1398.9,555.9" fill="none" stroke="#ff5252" stroke-width="1.3" stroke-linejoin="round"/>
<text x="11.3" y="473.8" fill="#131722" stroke="#131722" stroke-width="0.25" font-size="15.5" textLength="82.5" lengthAdjust="spacingAndGlyphs">ADX (14, 14)</text>
<text x="103.9" y="473.8" fill="#ff5252" stroke="#ff5252" stroke-width="0.25" font-size="15.5" textLength="36.1" lengthAdjust="spacingAndGlyphs">20.98</text>
</g>
<g clip-path="url(#cd)">
<rect x="136" y="599" width="1" height="148" fill="#f0f2f3"/>
<rect x="303" y="599" width="1" height="148" fill="#f0f2f3"/>
<rect x="478" y="599" width="1" height="148" fill="#f0f2f3"/>
<rect x="630" y="599" width="1" height="148" fill="#f0f2f3"/>
<rect x="805" y="599" width="1" height="148" fill="#f0f2f3"/>
<rect x="973" y="599" width="1" height="148" fill="#f0f2f3"/>
<rect x="1125" y="599" width="1" height="148" fill="#f0f2f3"/>
<rect x="1292" y="599" width="1" height="148" fill="#f0f2f3"/>
<rect x="1460" y="599" width="1" height="148" fill="#f0f2f3"/>
<rect x="1" y="629" width="1550" height="1" fill="#f0f2f3"/>
<rect x="1" y="670" width="1550" height="1" fill="#f0f2f3"/>
<rect x="1" y="711" width="1550" height="1" fill="#f0f2f3"/>
<rect x="-4" y="663" width="6" height="8" fill="#ace5dc"/>
<rect x="3" y="666" width="7" height="5" fill="#ace5dc"/>
<rect x="11" y="668" width="6" height="3" fill="#ace5dc"/>
<rect x="18" y="668" width="7" height="3" fill="#ace5dc"/>
<rect x="26" y="668" width="7" height="3" fill="#ace5dc"/>
<rect x="34" y="669" width="6" height="2" fill="#ace5dc"/>
<rect x="41" y="667" width="7" height="4" fill="#22ab94"/>
<rect x="49" y="666" width="7" height="5" fill="#22ab94"/>
<rect x="57" y="667" width="6" height="4" fill="#ace5dc"/>
<rect x="64" y="664" width="7" height="7" fill="#22ab94"/>
<rect x="72" y="663" width="6" height="8" fill="#22ab94"/>
<rect x="79" y="660" width="7" height="11" fill="#22ab94"/>
<rect x="87" y="664" width="7" height="7" fill="#ace5dc"/>
<rect x="95" y="665" width="6" height="6" fill="#ace5dc"/>
<rect x="102" y="667" width="7" height="4" fill="#ace5dc"/>
<rect x="110" y="670" width="6" height="3" fill="#ff5252"/>
<rect x="117" y="670" width="7" height="8" fill="#ff5252"/>
<rect x="125" y="670" width="7" height="11" fill="#ff5252"/>
<rect x="133" y="670" width="6" height="12" fill="#ff5252"/>
<rect x="140" y="670" width="7" height="11" fill="#fccbcd"/>
<rect x="148" y="670" width="6" height="9" fill="#fccbcd"/>
<rect x="155" y="670" width="7" height="7" fill="#fccbcd"/>
<rect x="163" y="670" width="7" height="4" fill="#fccbcd"/>
<rect x="171" y="670" width="6" height="4" fill="#fccbcd"/>
<rect x="178" y="670" width="7" height="2" fill="#fccbcd"/>
<rect x="186" y="668" width="7" height="3" fill="#22ab94"/>
<rect x="194" y="669" width="6" height="2" fill="#ace5dc"/>
<rect x="201" y="668" width="7" height="3" fill="#22ab94"/>
<rect x="209" y="670" width="6" height="3" fill="#ff5252"/>
<rect x="216" y="670" width="7" height="7" fill="#ff5252"/>
<rect x="224" y="670" width="7" height="8" fill="#ff5252"/>
<rect x="232" y="670" width="6" height="7" fill="#fccbcd"/>
<rect x="239" y="670" width="7" height="6" fill="#fccbcd"/>
<rect x="247" y="670" width="6" height="4" fill="#fccbcd"/>
<rect x="254" y="670" width="7" height="2" fill="#fccbcd"/>
<rect x="262" y="666" width="7" height="5" fill="#22ab94"/>
<rect x="270" y="661" width="6" height="10" fill="#22ab94"/>
<rect x="277" y="659" width="7" height="12" fill="#22ab94"/>
<rect x="285" y="659" width="6" height="12" fill="#ace5dc"/>
<rect x="292" y="660" width="7" height="11" fill="#ace5dc"/>
<rect x="300" y="660" width="7" height="11" fill="#ace5dc"/>
<rect x="308" y="659" width="6" height="12" fill="#22ab94"/>
<rect x="315" y="660" width="7" height="11" fill="#ace5dc"/>
<rect x="323" y="662" width="6" height="9" fill="#ace5dc"/>
<rect x="330" y="664" width="7" height="7" fill="#ace5dc"/>
<rect x="338" y="665" width="7" height="6" fill="#ace5dc"/>
<rect x="346" y="663" width="6" height="8" fill="#22ab94"/>
<rect x="353" y="663" width="7" height="8" fill="#22ab94"/>
<rect x="361" y="662" width="7" height="9" fill="#22ab94"/>
<rect x="369" y="661" width="6" height="10" fill="#22ab94"/>
<rect x="376" y="662" width="7" height="9" fill="#ace5dc"/>
<rect x="384" y="663" width="6" height="8" fill="#ace5dc"/>
<rect x="391" y="666" width="7" height="5" fill="#ace5dc"/>
<rect x="399" y="667" width="7" height="4" fill="#ace5dc"/>
<rect x="407" y="669" width="6" height="2" fill="#ace5dc"/>
<rect x="414" y="670" width="7" height="4" fill="#ff5252"/>
<rect x="422" y="670" width="6" height="6" fill="#ff5252"/>
<rect x="429" y="670" width="7" height="7" fill="#ff5252"/>
<rect x="437" y="670" width="7" height="9" fill="#ff5252"/>
<rect x="445" y="670" width="6" height="12" fill="#ff5252"/>
<rect x="452" y="670" width="7" height="13" fill="#ff5252"/>
<rect x="460" y="670" width="6" height="12" fill="#fccbcd"/>
<rect x="467" y="670" width="7" height="9" fill="#fccbcd"/>
<rect x="475" y="670" width="7" height="5" fill="#fccbcd"/>
<rect x="483" y="670" width="6" height="1" fill="#22ab94"/>
<rect x="490" y="666" width="7" height="5" fill="#22ab94"/>
<rect x="498" y="664" width="7" height="7" fill="#22ab94"/>
<rect x="506" y="668" width="6" height="3" fill="#ace5dc"/>
<rect x="513" y="670" width="7" height="2" fill="#ff5252"/>
<rect x="521" y="670" width="6" height="5" fill="#ff5252"/>
<rect x="528" y="670" width="7" height="7" fill="#ff5252"/>
<rect x="536" y="670" width="7" height="7" fill="#fccbcd"/>
<rect x="544" y="670" width="6" height="7" fill="#fccbcd"/>
<rect x="551" y="670" width="7" height="5" fill="#fccbcd"/>
<rect x="559" y="670" width="6" height="8" fill="#ff5252"/>
<rect x="566" y="670" width="7" height="5" fill="#fccbcd"/>
<rect x="574" y="670" width="7" height="1" fill="#fccbcd"/>
<rect x="582" y="669" width="6" height="2" fill="#22ab94"/>
<rect x="589" y="667" width="7" height="4" fill="#22ab94"/>
<rect x="597" y="666" width="6" height="5" fill="#22ab94"/>
<rect x="604" y="670" width="7" height="1" fill="#ace5dc"/>
<rect x="612" y="670" width="7" height="3" fill="#ff5252"/>
<rect x="620" y="670" width="6" height="8" fill="#ff5252"/>
<rect x="627" y="670" width="7" height="9" fill="#ff5252"/>
<rect x="635" y="670" width="7" height="11" fill="#ff5252"/>
<rect x="643" y="670" width="6" height="13" fill="#ff5252"/>
<rect x="650" y="670" width="7" height="14" fill="#ff5252"/>
<rect x="658" y="670" width="6" height="20" fill="#ff5252"/>
<rect x="665" y="670" width="7" height="22" fill="#ff5252"/>
<rect x="673" y="670" width="7" height="22" fill="#ff5252"/>
<rect x="681" y="670" width="6" height="23" fill="#ff5252"/>
<rect x="688" y="670" width="7" height="25" fill="#ff5252"/>
<rect x="696" y="670" width="6" height="24" fill="#fccbcd"/>
<rect x="703" y="670" width="7" height="22" fill="#fccbcd"/>
<rect x="711" y="670" width="7" height="20" fill="#fccbcd"/>
<rect x="719" y="670" width="6" height="16" fill="#fccbcd"/>
<rect x="726" y="670" width="7" height="13" fill="#fccbcd"/>
<rect x="734" y="670" width="6" height="8" fill="#fccbcd"/>
<rect x="741" y="670" width="7" height="7" fill="#fccbcd"/>
<rect x="749" y="670" width="7" height="9" fill="#ff5252"/>
<rect x="757" y="670" width="6" height="10" fill="#ff5252"/>
<rect x="764" y="670" width="7" height="10" fill="#fccbcd"/>
<rect x="772" y="670" width="6" height="9" fill="#fccbcd"/>
<rect x="779" y="670" width="7" height="6" fill="#fccbcd"/>
<rect x="787" y="670" width="7" height="4" fill="#fccbcd"/>
<rect x="795" y="669" width="6" height="2" fill="#22ab94"/>
<rect x="802" y="666" width="7" height="5" fill="#22ab94"/>
<rect x="810" y="664" width="7" height="7" fill="#22ab94"/>
<rect x="818" y="660" width="6" height="11" fill="#22ab94"/>
<rect x="825" y="656" width="7" height="15" fill="#22ab94"/>
<rect x="833" y="651" width="6" height="20" fill="#22ab94"/>
<rect x="840" y="648" width="7" height="23" fill="#22ab94"/>
<rect x="848" y="644" width="7" height="27" fill="#22ab94"/>
<rect x="856" y="645" width="6" height="26" fill="#ace5dc"/>
<rect x="863" y="646" width="7" height="25" fill="#ace5dc"/>
<rect x="871" y="648" width="6" height="23" fill="#ace5dc"/>
<rect x="878" y="649" width="7" height="22" fill="#ace5dc"/>
<rect x="886" y="650" width="7" height="21" fill="#ace5dc"/>
<rect x="894" y="655" width="6" height="16" fill="#ace5dc"/>
<rect x="901" y="659" width="7" height="12" fill="#ace5dc"/>
<rect x="909" y="663" width="6" height="8" fill="#ace5dc"/>
<rect x="916" y="668" width="7" height="3" fill="#ace5dc"/>
<rect x="924" y="670" width="7" height="7" fill="#ff5252"/>
<rect x="932" y="670" width="6" height="10" fill="#ff5252"/>
<rect x="939" y="670" width="7" height="20" fill="#ff5252"/>
<rect x="947" y="670" width="7" height="26" fill="#ff5252"/>
<rect x="955" y="670" width="6" height="31" fill="#ff5252"/>
<rect x="962" y="670" width="7" height="27" fill="#fccbcd"/>
<rect x="970" y="670" width="6" height="19" fill="#fccbcd"/>
<rect x="977" y="670" width="7" height="15" fill="#fccbcd"/>
<rect x="985" y="670" width="7" height="9" fill="#fccbcd"/>
<rect x="993" y="670" width="6" height="4" fill="#fccbcd"/>
<rect x="1000" y="670" width="7" height="2" fill="#fccbcd"/>
<rect x="1008" y="670" width="6" height="6" fill="#ff5252"/>
<rect x="1015" y="670" width="7" height="7" fill="#ff5252"/>
<rect x="1023" y="670" width="7" height="7" fill="#fccbcd"/>
<rect x="1031" y="670" width="6" height="4" fill="#fccbcd"/>
<rect x="1038" y="670" width="7" height="1" fill="#fccbcd"/>
<rect x="1046" y="667" width="6" height="4" fill="#22ab94"/>
<rect x="1053" y="665" width="7" height="6" fill="#22ab94"/>
<rect x="1061" y="660" width="7" height="11" fill="#22ab94"/>
<rect x="1069" y="658" width="6" height="13" fill="#22ab94"/>
<rect x="1076" y="657" width="7" height="14" fill="#22ab94"/>
<rect x="1084" y="656" width="7" height="15" fill="#22ab94"/>
<rect x="1092" y="656" width="6" height="15" fill="#22ab94"/>
<rect x="1099" y="657" width="7" height="14" fill="#ace5dc"/>
<rect x="1107" y="659" width="6" height="12" fill="#ace5dc"/>
<rect x="1114" y="662" width="7" height="9" fill="#ace5dc"/>
<rect x="1122" y="663" width="7" height="8" fill="#ace5dc"/>
<rect x="1130" y="664" width="6" height="7" fill="#ace5dc"/>
<rect x="1137" y="666" width="7" height="5" fill="#ace5dc"/>
<rect x="1145" y="666" width="6" height="5" fill="#ace5dc"/>
<rect x="1152" y="670" width="7" height="1" fill="#ff5252"/>
<rect x="1160" y="670" width="7" height="4" fill="#ff5252"/>
<rect x="1168" y="670" width="6" height="6" fill="#ff5252"/>
<rect x="1175" y="670" width="7" height="6" fill="#ff5252"/>
<rect x="1183" y="670" width="6" height="3" fill="#fccbcd"/>
<rect x="1190" y="666" width="7" height="5" fill="#22ab94"/>
<rect x="1198" y="664" width="7" height="7" fill="#22ab94"/>
<rect x="1206" y="662" width="6" height="9" fill="#22ab94"/>
<rect x="1213" y="660" width="7" height="11" fill="#22ab94"/>
<rect x="1221" y="658" width="6" height="13" fill="#22ab94"/>
<rect x="1228" y="659" width="7" height="12" fill="#ace5dc"/>
<rect x="1236" y="659" width="7" height="12" fill="#ace5dc"/>
<rect x="1244" y="658" width="6" height="13" fill="#22ab94"/>
<rect x="1251" y="656" width="7" height="15" fill="#22ab94"/>
<rect x="1259" y="652" width="7" height="19" fill="#22ab94"/>
<rect x="1267" y="650" width="6" height="21" fill="#22ab94"/>
<rect x="1274" y="648" width="7" height="23" fill="#22ab94"/>
<rect x="1282" y="648" width="6" height="23" fill="#ace5dc"/>
<rect x="1289" y="652" width="7" height="19" fill="#ace5dc"/>
<rect x="1297" y="653" width="7" height="18" fill="#ace5dc"/>
<rect x="1305" y="654" width="6" height="17" fill="#ace5dc"/>
<rect x="1312" y="657" width="7" height="14" fill="#ace5dc"/>
<rect x="1320" y="662" width="6" height="9" fill="#ace5dc"/>
<rect x="1327" y="667" width="7" height="4" fill="#ace5dc"/>
<rect x="1335" y="670" width="7" height="4" fill="#ff5252"/>
<rect x="1343" y="670" width="6" height="7" fill="#ff5252"/>
<rect x="1350" y="670" width="7" height="11" fill="#ff5252"/>
<rect x="1358" y="670" width="6" height="15" fill="#ff5252"/>
<rect x="1365" y="670" width="7" height="18" fill="#ff5252"/>
<rect x="1373" y="670" width="7" height="21" fill="#ff5252"/>
<rect x="1381" y="670" width="6" height="23" fill="#ff5252"/>
<rect x="1388" y="670" width="7" height="26" fill="#ff5252"/>
<rect x="1396" y="670" width="7" height="26" fill="#fccbcd"/>
<polyline points="1,650.1 11.5,652.6 21.1,651.6 28.7,652.2 37.4,653.6 44.1,650.7 51.7,648.8 59.4,648.4 67,644.6 74.7,641.1 82.4,636.3 90,638.2 97.7,638.4 105.4,640.1 111.1,644 118.8,650.1 126.4,656 135.1,661.2 141.8,662.6 151.3,663.1 159,662.2 166.7,660.3 172.4,660.6 180.1,658.9 188.7,656 195.4,655.9 203.1,655.5 210.7,658.3 220.3,665.4 228,667.3 234.7,667.5 242.3,669.3 251,667 258.6,664.5 264.4,659.3 272,653.2 279.7,647.4 289.3,644.4 301.5,641.1 311.1,637.3 318.7,636.3 328.3,636.3 340.8,635.9 349.4,631.5 357,629.6 370.5,624.8 380,623.9 386.7,622.5 393.4,624.4 404.9,626.7 414.5,630.6 424.1,635.4 439.4,641.7 447.1,646.9 454.8,652.2 462.4,653.6 470.1,653 477.7,649.7 485.4,645.5 493.1,640.5 500.7,636.9 508.4,640.1 516.1,644 523.7,647.8 530.4,651.3 539,653 546.7,654.1 554.4,653.6 562,658.3 568.7,657 575.4,653.6 583.1,651.3 591.5,647.4 599.2,646.5 606.8,649.3 614.5,653.2 622.1,659.7 629.8,663.1 637.5,666.4 645.1,672.7 652.8,676.5 660.5,687.1 668.1,693.8 675.8,699.5 683.4,707.2 691.1,713.9 698.8,719.6 706.4,722.9 714.1,725.8 721.8,725.4 729.4,725 737.1,723.1 744.8,723.5 752.4,727.3 760.1,730.8 767.7,732.7 774.4,733.6 782.1,732.1 789.8,729.8 798.4,725.4 806.1,722.1 813.7,718.7 820.4,712.9 828,704.3 835.7,694.7 843.4,686.1 851.1,676.5 858.7,669.8 866.4,665 874.1,661.6 879.6,659.3 888.2,654.9 898.7,655.1 910.2,658.9 919.8,664.1 927.5,674.6 935.1,680.4 942.8,693.8 950.5,706.2 957.2,719.1 964.8,721.2 973.4,717.7 980.2,717.2 988.8,714.5 996.4,709.5 1004.1,708.2 1011.8,712.9 1019.4,716.4 1026.1,717.3 1034.8,714.5 1042.4,711.6 1050.1,708.2 1055.8,704.9 1063.5,697.6 1073.1,691.5 1082.7,686.1 1094.1,680 1101.8,678.5 1109.5,676.9 1117.1,678.5 1124.8,677.5 1132.5,676.5 1139.2,677.5 1146.8,676.5 1150,678.5 1157.7,682.3 1165.3,685.8 1171.1,688.1 1178.7,689.2 1185.4,687.1 1194.1,679.4 1201.7,675.6 1209.4,672.7 1217.1,667.9 1224.7,663.1 1232.4,660.8 1240.1,658.4 1247.7,654.5 1255.4,648.8 1263,641.1 1270.7,632.5 1277.4,625.8 1284.1,621 1291.8,620 1299.5,617.2 1307.1,613.7 1314.8,614.3 1322.5,617.2 1330.1,621.4 1337.8,627.7 1345.4,632.1 1353.1,639.2 1360.8,646.9 1368.4,655.5 1376.1,664.1 1383.8,671.8 1390.4,679.4 1398.7,685.8" fill="none" stroke="#2196f3" stroke-width="1.3" stroke-linejoin="round"/>
<polyline points="1,655.5 11.5,654.1 23,653.6 36.4,653.6 47.9,652.2 59.4,651.1 70.9,648.2 82.4,644.9 93.9,643 103.4,642.4 111.1,643 120.7,644.9 130.3,648.2 141.8,652.6 153.3,655.5 164.8,656.8 176.2,657.8 187.7,657.8 199.2,657 208.8,657.4 218.4,659.7 229.9,661.8 241.4,663.7 251,664.5 258.6,664.1 268.2,662.2 277.8,658.9 287.4,655.5 301.5,650.7 316.8,644.9 339.8,640.5 355.1,636.3 370.5,632.5 385.8,629.2 397.3,627.7 406.9,627.7 416.4,628.7 427.9,631 439.4,634 450.9,638.6 462.4,643 473.9,644.9 485.4,645.3 493.1,644 500.7,642.6 510.3,642.6 519.9,644 531.4,646.5 544.8,648.8 554.4,649.7 563.9,651.6 573.6,652.6 583.1,652 589.6,651.3 599.2,650.1 606.8,650.1 614.5,650.7 624.1,653.2 637.5,657 652.8,663.1 660.5,667.9 668.1,674.6 679.6,682.3 691.1,691.9 700.7,698.6 710.3,705.3 721.8,711 733.3,713.9 744.8,716.8 756.2,720.2 767.7,723.9 779.2,726.4 790.7,727.3 802.2,726.7 813.7,724.4 823.3,721 832.9,715.8 844.4,708.2 855.9,698.6 867.4,688 879.6,680.4 889.2,674.2 900.7,669.3 912.1,666.6 921.7,666.6 931.3,669.3 940.9,674.6 950.5,682.3 958.1,689.6 967.7,696.7 977.3,701.8 988.8,705.3 1000.3,706.6 1011.8,708.2 1023.3,711 1034.8,712.4 1046.2,711.6 1055.8,710.1 1073.1,704.3 1084.6,698.6 1096.1,692.8 1109.5,687.7 1122.9,683.8 1134.4,681.7 1145.9,680.4 1161.5,682.3 1173,684.2 1184.5,684.8 1194.1,683.8 1205.6,680.8 1217.1,676.6 1228.6,671.8 1240.1,667.9 1251.6,663.1 1263,656.4 1272.6,649.3 1284.1,641.1 1295.6,634.8 1307.1,629 1318.6,625.2 1330.1,623.9 1339.7,624.2 1349.3,627.1 1360.8,632.5 1372.3,640.2 1383.8,648.8 1391.4,655.1 1398.7,660.8" fill="none" stroke="#ff6d00" stroke-width="1.3" stroke-linejoin="round"/>
<text x="10.8" y="624" fill="#131722" stroke="#131722" stroke-width="0.25" font-size="15.5" textLength="156.2" lengthAdjust="spacingAndGlyphs">MACD (12, 26, close, 9)</text>
<text x="177.5" y="624" fill="#fccbcd" stroke="#fccbcd" stroke-width="0.25" font-size="15.5" textLength="57.4" lengthAdjust="spacingAndGlyphs">-0.00304</text>
<text x="244.7" y="624" fill="#2196f3" stroke="#2196f3" stroke-width="0.25" font-size="15.5" textLength="56.9" lengthAdjust="spacingAndGlyphs">-0.00185</text>
<text x="311.4" y="624" fill="#ff6d00" stroke="#ff6d00" stroke-width="0.25" font-size="15.5" textLength="52" lengthAdjust="spacingAndGlyphs">0.00119</text>
</g>
<rect x="0" y="298" width="1632" height="1" fill="#e0e3eb"/>
<rect x="0" y="448" width="1632" height="1" fill="#e0e3eb"/>
<rect x="0" y="598" width="1632" height="1" fill="#e0e3eb"/>
<g clip-path="url(#cmx)">
<text x="1561.5" y="33.3" fill="#131722" stroke="#131722" stroke-width="0.25" font-size="15.5" textLength="51.2" lengthAdjust="spacingAndGlyphs">1.42000</text>
</g>
<g clip-path="url(#cmx)">
<text x="1561.5" y="97.6" fill="#131722" stroke="#131722" stroke-width="0.25" font-size="15.5" textLength="51.2" lengthAdjust="spacingAndGlyphs">1.40000</text>
</g>
<g clip-path="url(#cmx)">
<text x="1561.5" y="162.6" fill="#131722" stroke="#131722" stroke-width="0.25" font-size="15.5" textLength="51.2" lengthAdjust="spacingAndGlyphs">1.38000</text>
</g>
<g clip-path="url(#cmx)">
<text x="1561.5" y="227.6" fill="#131722" stroke="#131722" stroke-width="0.25" font-size="15.5" textLength="51.2" lengthAdjust="spacingAndGlyphs">1.36000</text>
</g>
<g clip-path="url(#cmx)">
<text x="1561.5" y="292.6" fill="#131722" stroke="#131722" stroke-width="0.25" font-size="15.5" textLength="51.5" lengthAdjust="spacingAndGlyphs">1.34000</text>
</g>
<g clip-path="url(#cmx)">
<path d="M1551,81 H1618 Q1621,81 1621,84 V98.7 Q1621,101.7 1618,101.7 H1551 Z" fill="#2196f3"/>
<text x="1561.5" y="97" fill="#ffffff" stroke="#ffffff" stroke-width="0.25" font-size="15.5" textLength="50" lengthAdjust="spacingAndGlyphs">1.40041</text>
</g>
<g clip-path="url(#cmx)">
<path d="M1551,140.1 H1618 Q1621,140.1 1621,143.1 V157.6 Q1621,160.6 1618,160.6 H1551 Z" fill="#ff6d00"/>
<text x="1561.5" y="156.1" fill="#ffffff" stroke="#ffffff" stroke-width="0.25" font-size="15.5" textLength="50" lengthAdjust="spacingAndGlyphs">1.38225</text>
</g>
<g clip-path="url(#cmx)">
<path d="M1551,192.1 H1618 Q1621,192.1 1621,195.1 V209.9 Q1621,212.9 1618,212.9 H1551 Z" fill="#089981"/>
<text x="1561.5" y="208.1" fill="#ffffff" stroke="#ffffff" stroke-width="0.25" font-size="15.5" textLength="50" lengthAdjust="spacingAndGlyphs">1.36623</text>
</g>
<g clip-path="url(#cmx)">
<path d="M1551,213.2 H1618 Q1621,213.2 1621,216.2 V230.7 Q1621,233.7 1618,233.7 H1551 Z" fill="#2196f3"/>
<text x="1561.5" y="229.2" fill="#ffffff" stroke="#ffffff" stroke-width="0.25" font-size="15.5" textLength="50" lengthAdjust="spacingAndGlyphs">1.36408</text>
</g>
<g clip-path="url(#crx)">
<text x="1561.5" y="306.8" fill="#131722" stroke="#131722" stroke-width="0.25" font-size="15.5" textLength="36" lengthAdjust="spacingAndGlyphs">80.00</text>
</g>
<g clip-path="url(#crx)">
<text x="1561.5" y="352.8" fill="#131722" stroke="#131722" stroke-width="0.25" font-size="15.5" textLength="36" lengthAdjust="spacingAndGlyphs">60.00</text>
</g>
<g clip-path="url(#crx)">
<text x="1561.5" y="399.4" fill="#131722" stroke="#131722" stroke-width="0.25" font-size="15.5" textLength="36" lengthAdjust="spacingAndGlyphs">40.00</text>
</g>
<g clip-path="url(#crx)">
<text x="1561.5" y="445.9" fill="#131722" stroke="#131722" stroke-width="0.25" font-size="15.5" textLength="36" lengthAdjust="spacingAndGlyphs">20.00</text>
</g>
<g clip-path="url(#crx)">
<path d="M1551,391.1 H1602 Q1605,391.1 1605,394.1 V408.7 Q1605,411.7 1602,411.7 H1551 Z" fill="#a052c8"/>
<text x="1561.5" y="407.1" fill="#ffffff" stroke="#ffffff" stroke-width="0.25" font-size="15.5" textLength="36" lengthAdjust="spacingAndGlyphs">36.83</text>
</g>
<g clip-path="url(#cax)">
<text x="1561.5" y="494.4" fill="#131722" stroke="#131722" stroke-width="0.25" font-size="15.5" textLength="36" lengthAdjust="spacingAndGlyphs">40.00</text>
</g>
<g clip-path="url(#cax)">
<text x="1561.5" y="564.5" fill="#131722" stroke="#131722" stroke-width="0.25" font-size="15.5" textLength="36" lengthAdjust="spacingAndGlyphs">20.00</text>
</g>
<g clip-path="url(#cax)">
<path d="M1551,546.2 H1602 Q1605,546.2 1605,549.2 V563.7 Q1605,566.7 1602,566.7 H1551 Z" fill="#ff5252"/>
<text x="1561.5" y="562.2" fill="#ffffff" stroke="#ffffff" stroke-width="0.25" font-size="15.5" textLength="36" lengthAdjust="spacingAndGlyphs">20.98</text>
</g>
<g clip-path="url(#cdx)">
<text x="1561.5" y="634.7" fill="#131722" stroke="#131722" stroke-width="0.25" font-size="15.5" textLength="52.4" lengthAdjust="spacingAndGlyphs">0.00500</text>
</g>
<g clip-path="url(#cdx)">
<text x="1561.5" y="676" fill="#131722" stroke="#131722" stroke-width="0.25" font-size="15.5" textLength="52.4" lengthAdjust="spacingAndGlyphs">0.00000</text>
</g>
<g clip-path="url(#cdx)">
<text x="1561.5" y="716.8" fill="#131722" stroke="#131722" stroke-width="0.25" font-size="15.5" textLength="57.6" lengthAdjust="spacingAndGlyphs">-0.00500</text>
</g>
<g clip-path="url(#cdx)">
<path d="M1551,642 H1618 Q1621,642 1621,645 V659.4 Q1621,662.4 1618,662.4 H1551 Z" fill="#ff6d00"/>
<text x="1561.5" y="658" fill="#ffffff" stroke="#ffffff" stroke-width="0.25" font-size="15.5" textLength="52" lengthAdjust="spacingAndGlyphs">0.00119</text>
</g>
<g clip-path="url(#cdx)">
<path d="M1551,663 H1623 Q1626,663 1626,666 V680.9 Q1626,683.9 1623,683.9 H1551 Z" fill="#2196f3"/>
<text x="1561.5" y="679" fill="#ffffff" stroke="#ffffff" stroke-width="0.25" font-size="15.5" textLength="57" lengthAdjust="spacingAndGlyphs">-0.00185</text>
</g>
<g clip-path="url(#cdx)">
<path d="M1551,685.5 H1623 Q1626,685.5 1626,688.5 V702.7 Q1626,705.7 1623,705.7 H1551 Z" fill="#fccbcd"/>
<text x="1561.5" y="701.5" fill="#131722" stroke="#131722" stroke-width="0.25" font-size="15.5" textLength="57" lengthAdjust="spacingAndGlyphs">-0.00304</text>
</g>
<text x="135.5" y="770" fill="#131722" stroke="#131722" stroke-width="0.25" font-size="15.5" textLength="23.4" lengthAdjust="spacingAndGlyphs" text-anchor="middle">Sep</text>
<text x="302.5" y="770" fill="#131722" stroke="#131722" stroke-width="0.25" font-size="15.5" textLength="23" lengthAdjust="spacingAndGlyphs" text-anchor="middle">Oct</text>
<text x="477.5" y="770" fill="#131722" stroke="#131722" stroke-width="0.25" font-size="15.5" textLength="25" lengthAdjust="spacingAndGlyphs" text-anchor="middle">Nov</text>
<text x="629.5" y="770" fill="#131722" stroke="#131722" stroke-width="0.25" font-size="15.5" textLength="24" lengthAdjust="spacingAndGlyphs" text-anchor="middle">Dec</text>
<text x="804.5" y="770" fill="#131722" stroke="#131722" stroke-width="0.25" font-size="15.5" textLength="34.3" lengthAdjust="spacingAndGlyphs" font-weight="bold" text-anchor="middle">2026</text>
<text x="972.5" y="770" fill="#131722" stroke="#131722" stroke-width="0.25" font-size="15.5" textLength="25" lengthAdjust="spacingAndGlyphs" text-anchor="middle">Feb</text>
<text x="1124.5" y="770" fill="#131722" stroke="#131722" stroke-width="0.25" font-size="15.5" textLength="24.5" lengthAdjust="spacingAndGlyphs" text-anchor="middle">Mar</text>
<text x="1291.5" y="770" fill="#131722" stroke="#131722" stroke-width="0.25" font-size="15.5" textLength="23" lengthAdjust="spacingAndGlyphs" text-anchor="middle">Apr</text>
<text x="1459.5" y="770" fill="#131722" stroke="#131722" stroke-width="0.25" font-size="15.5" textLength="26" lengthAdjust="spacingAndGlyphs" text-anchor="middle">May</text>
<rect x="0" y="0" width="1632" height="1" fill="#eceef2"/>
<rect x="1" y="1" width="1629" height="1" fill="#eceef2" fill-opacity="0.6"/>
<rect x="0" y="781" width="1632" height="2" fill="#eceef2"/>
<rect x="0" y="0" width="1" height="783" fill="#eceef2"/>
<rect x="1" y="2" width="1" height="779" fill="#eceef2" fill-opacity="0.6"/>
<rect x="1630" y="0" width="2" height="783" fill="#eceef2"/>
</svg></body></html>
